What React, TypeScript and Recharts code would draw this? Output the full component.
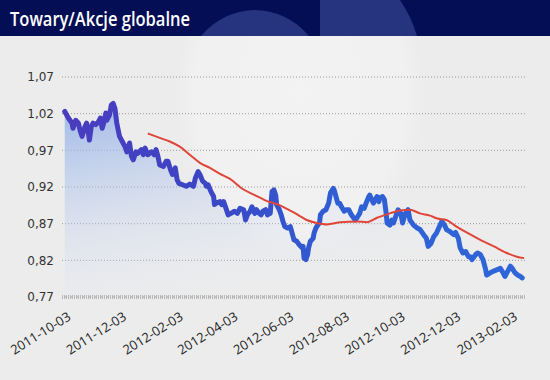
import { Area, CartesianGrid, ComposedChart, Line, ReferenceLine, XAxis, YAxis } from "recharts";

// x values are days since 2011-10-03
const towaryDays = [
  0, 4, 8, 9, 12, 15, 17, 19, 22, 24,
  26, 27, 29, 31, 34, 37, 39, 41, 43, 45,
  46, 49, 51, 53, 55, 57, 60, 63, 66, 68,
  71, 73, 75, 78, 80, 84, 86, 88, 91, 95,
  98, 100, 102, 104, 108, 111, 113, 116, 118, 121,
  123, 125, 129, 133, 137, 141, 143, 146, 148, 151,
  154, 155, 157, 160, 163, 164, 166, 170, 172, 174,
  176, 179, 182, 186, 189, 192, 196, 198, 200, 203,
  205, 208, 210, 213, 215, 217, 220, 222, 225, 227,
  229, 231, 232, 235, 237, 239, 241, 244, 247, 249,
  251, 254, 257, 260, 261, 262, 264, 266, 267, 269,
  272, 273, 275, 277, 279, 280, 283, 286, 289, 291,
  294, 295, 297, 299, 301, 303, 306, 308, 311, 313,
  315, 318, 320, 323, 325, 328, 330, 333, 334, 336,
  338, 340, 342, 344, 345, 348, 350, 352, 353, 356,
  358, 360, 363, 365, 368, 370, 373, 376, 378, 382,
  386, 389, 393, 396, 398, 401, 404, 407, 411, 413,
  416, 418, 422, 426, 428, 431, 433, 436, 439, 442,
  444, 446, 450, 452, 455, 458, 461, 462, 466, 469,
  473, 477, 480, 482, 485, 488, 490, 493, 496, 499,
  501,
];
const towaryValues = [
  1.023, 1.014, 1.007, 1.0, 1.011, 1.007, 0.996, 0.989, 1.002, 1.007,
  0.993, 0.984, 1.002, 1.007, 1.005, 1.009, 1.014, 1.0, 1.009, 1.021,
  1.011, 1.018, 1.032, 1.034, 1.027, 1.007, 0.989, 0.982, 0.975, 0.968,
  0.98, 0.962, 0.957, 0.968, 0.966, 0.971, 0.964, 0.973, 0.964, 0.968,
  0.964, 0.971, 0.962, 0.95, 0.948, 0.955, 0.955, 0.943, 0.937, 0.946,
  0.93, 0.925, 0.923, 0.921, 0.924, 0.921, 0.932, 0.941, 0.937, 0.928,
  0.925, 0.921, 0.923, 0.914, 0.907, 0.896, 0.898, 0.9, 0.896, 0.9,
  0.893, 0.882, 0.884, 0.887, 0.884, 0.891, 0.889, 0.875, 0.882, 0.887,
  0.893, 0.884, 0.889, 0.884, 0.882, 0.887, 0.889, 0.882, 0.884, 0.914,
  0.916, 0.909, 0.896, 0.889, 0.882, 0.873, 0.866, 0.864, 0.866, 0.857,
  0.848, 0.846, 0.841, 0.837, 0.839, 0.823, 0.821, 0.828, 0.837, 0.846,
  0.85, 0.857, 0.864, 0.868, 0.871, 0.882, 0.887, 0.889, 0.898, 0.912,
  0.918, 0.916, 0.907, 0.898, 0.898, 0.893, 0.887, 0.889, 0.889, 0.884,
  0.88, 0.875, 0.878, 0.884, 0.893, 0.891, 0.898, 0.907, 0.909, 0.903,
  0.898, 0.903, 0.907, 0.9, 0.905, 0.907, 0.903, 0.884, 0.871, 0.868,
  0.875, 0.871, 0.882, 0.889, 0.884, 0.871, 0.884, 0.889, 0.875, 0.868,
  0.864, 0.862, 0.855, 0.85, 0.839, 0.843, 0.852, 0.857, 0.868, 0.873,
  0.868, 0.862, 0.859, 0.855, 0.858, 0.85, 0.837, 0.83, 0.832, 0.825,
  0.825, 0.821, 0.828, 0.83, 0.828, 0.821, 0.807, 0.8, 0.803, 0.805,
  0.807, 0.809, 0.803, 0.798, 0.805, 0.812, 0.809, 0.803, 0.8, 0.798,
  0.796,
];

// moving average (red)
const avgDays = [
  91, 104, 115, 126, 137, 148, 159, 170, 181, 194, 208, 223, 234, 245, 258, 265, 276, 287,
  302, 320, 331, 342, 356, 367, 378, 389, 400, 408, 418, 429, 440, 455, 470, 484, 495, 503,
];
const avgValues = [
  0.993, 0.987, 0.982, 0.975, 0.964, 0.953, 0.946, 0.938, 0.931, 0.918, 0.909, 0.9, 0.896, 0.889,
  0.88, 0.875, 0.871, 0.869, 0.872, 0.873, 0.872, 0.878, 0.884, 0.888, 0.889, 0.884, 0.881, 0.877,
  0.875, 0.866, 0.858, 0.848, 0.839, 0.83, 0.825, 0.823,
];

const tickDays = [0, 61, 123, 183, 244, 305, 366, 427, 489];
const tickLabels = [
  "2011-10-03", "2011-12-03", "2012-02-03", "2012-04-03", "2012-06-03",
  "2012-08-03", "2012-10-03", "2012-12-03", "2013-02-03",
];
const yTicks = [0.77, 0.82, 0.87, 0.92, 0.97, 1.02, 1.07];

const towaryData = towaryDays.map((day, i) => ({ day, v: towaryValues[i] }));
const avgData = avgDays.map((day, i) => ({ day, v: avgValues[i] }));
const labelByDay = new Map(tickDays.map((d, i) => [d, tickLabels[i]]));

function DateTick({ x, y, payload }: any) {
  const tx = x + 7;
  const ty = y + 14;
  return (
    <text
      x={tx}
      y={ty}
      textAnchor="end"
      transform={`rotate(-32, ${tx}, ${ty})`}
      fontSize={13}
      fontFamily="'Open Sans', sans-serif"
      fill="#222"
    >
      {labelByDay.get(payload.value)}
    </text>
  );
}

export default function App() {
  return (
    <div style={{ position: "absolute", left: 0, top: 0, width: 550, height: 380, background: "#ececec", overflow: "hidden" }}>
      <svg width={550} height={380} style={{ position: "absolute", left: 0, top: 0 }}>
        <defs>
          <radialGradient id="glow" cx="0.5" cy="0.45" r="0.5">
            <stop offset="0" stopColor="#ffffff" stopOpacity={0.35} />
            <stop offset="0.85" stopColor="#ffffff" stopOpacity={0.25} />
            <stop offset="1" stopColor="#ffffff" stopOpacity={0} />
          </radialGradient>
        </defs>
        <ellipse cx={300} cy={110} rx={125} ry={160} fill="url(#glow)" />
        <rect x={0} y={0} width={550} height={36} fill="#030e55" />
        <clipPath id="titleClip">
          <rect x={0} y={0} width={550} height={36} />
        </clipPath>
        <g clipPath="url(#titleClip)" fill="#26347f">
          <ellipse cx={255} cy={95} rx={75} ry={85} />
          <path d="M320,0 L400,0 Q412,18 417,36 L320,36 Z" />
        </g>
        <text
          x={10}
          y={26}
          fontSize={20}
          fontWeight={600}
          fontFamily="'Open Sans', sans-serif"
          fill="#ffffff"
          textLength={180}
          lengthAdjust="spacingAndGlyphs"
        >
          Towary/Akcje globalne
        </text>
      </svg>
      <div style={{ position: "absolute", left: 0, top: 0 }}>
        <ComposedChart width={550} height={380} margin={{ top: 77, right: 25, bottom: 21, left: 0 }}>
          <defs>
            <linearGradient id="areaFill" x1="0" y1="0" x2="0.45" y2="1">
              <stop offset="0" stopColor="#8eaee6" stopOpacity={0.85} />
              <stop offset="0.5" stopColor="#b9cbee" stopOpacity={0.38} />
              <stop offset="1" stopColor="#e8eef8" stopOpacity={0} />
            </linearGradient>
            <linearGradient id="lineStroke" x1="0" y1="0" x2="1" y2="0">
              <stop offset="0" stopColor="#4a3cbf" />
              <stop offset="0.3" stopColor="#3c45c4" />
              <stop offset="0.6" stopColor="#2f5fd4" />
              <stop offset="1" stopColor="#2f66d8" />
            </linearGradient>
          </defs>
          <CartesianGrid vertical={false} stroke="#999" strokeDasharray="1 2" />
          <XAxis
            type="number"
            dataKey="day"
            domain={[-3, 504]}
            ticks={tickDays}
            allowDataOverflow
            axisLine={false}
            tickLine={false}
            height={62}
            interval={0}
            tick={<DateTick />}
          />
          <YAxis
            type="number"
            domain={[0.77, 1.07]}
            ticks={yTicks}
            allowDataOverflow
            axisLine={false}
            tickLine={false}
            width={62}
            tick={{ fontSize: 12, fill: "#333", fontFamily: "'DejaVu Sans', sans-serif" }}
            tickFormatter={(v: number) => v.toFixed(2).replace(".", ",")}
          />
          <ReferenceLine y={0.77} stroke="#b8b8b8" strokeWidth={4} strokeDasharray="1 1" />
          <Area
            data={towaryData}
            dataKey="v"
            type="linear"
            stroke="none"
            fill="url(#areaFill)"
            fillOpacity={1}
            isAnimationActive={false}
          />
          <Line
            data={towaryData}
            dataKey="v"
            type="linear"
            stroke="url(#lineStroke)"
            strokeWidth={5}
            strokeLinejoin="round"
            strokeLinecap="round"
            dot={false}
            activeDot={false}
            isAnimationActive={false}
          />
          <Line
            data={avgData}
            dataKey="v"
            type="monotone"
            stroke="#e0453a"
            strokeWidth={2}
            dot={false}
            activeDot={false}
            isAnimationActive={false}
          />
        </ComposedChart>
      </div>
    </div>
  );
}
